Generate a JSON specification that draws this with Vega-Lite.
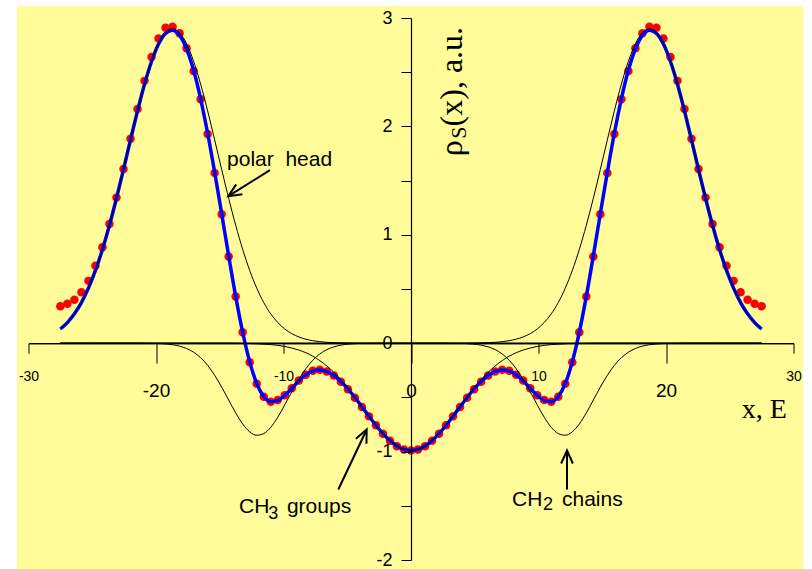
{
  "$schema": "https://vega.github.io/schema/vega-lite/v6.json",
  "width": 765,
  "height": 542,
  "autosize": {"type": "none"},
  "padding": {"left": 28.5, "top": 18, "right": 18.5, "bottom": 9},
  "background": "white",
  "config": {
    "view": {"stroke": null},
    "axis": {
      "domainColor": "black",
      "domainWidth": 1.2,
      "tickColor": "black",
      "tickWidth": 1,
      "labelColor": "black",
      "labelFont": "Liberation Sans",
      "grid": false
    }
  },
  "datasets": {
    "profile": [
      {"x": -27.5, "obs": 0.34, "fit": 0.131, "ph1": 0.131, "ph2": 0, "ch2a": 0, "ch2b": 0, "ch3": 0},
      {"x": -26.95, "obs": 0.365, "fit": 0.19, "ph1": 0.191, "ph2": 0, "ch2a": 0, "ch2b": 0, "ch3": 0},
      {"x": -26.4, "obs": 0.4, "fit": 0.271, "ph1": 0.271, "ph2": 0, "ch2a": 0, "ch2b": 0, "ch3": 0},
      {"x": -25.85, "obs": 0.47, "fit": 0.375, "ph1": 0.375, "ph2": 0, "ch2a": 0, "ch2b": 0, "ch3": 0},
      {"x": -25.3, "obs": 0.575, "fit": 0.508, "ph1": 0.508, "ph2": 0, "ch2a": 0, "ch2b": 0, "ch3": 0},
      {"x": -24.75, "obs": 0.715, "fit": 0.671, "ph1": 0.671, "ph2": 0, "ch2a": 0, "ch2b": 0, "ch3": 0},
      {"x": -24.2, "obs": 0.885, "fit": 0.865, "ph1": 0.865, "ph2": 0, "ch2a": 0, "ch2b": 0, "ch3": 0},
      {"x": -23.65, "obs": 1.1, "fit": 1.088, "ph1": 1.088, "ph2": 0, "ch2a": 0, "ch2b": 0, "ch3": 0},
      {"x": -23.1, "obs": 1.343, "fit": 1.337, "ph1": 1.337, "ph2": 0, "ch2a": 0, "ch2b": 0, "ch3": 0},
      {"x": -22.55, "obs": 1.608, "fit": 1.603, "ph1": 1.603, "ph2": 0, "ch2a": 0, "ch2b": 0, "ch3": 0},
      {"x": -22, "obs": 1.885, "fit": 1.876, "ph1": 1.876, "ph2": 0, "ch2a": 0, "ch2b": 0, "ch3": 0},
      {"x": -21.45, "obs": 2.16, "fit": 2.143, "ph1": 2.143, "ph2": 0, "ch2a": 0, "ch2b": 0, "ch3": 0},
      {"x": -20.9, "obs": 2.42, "fit": 2.389, "ph1": 2.39, "ph2": 0, "ch2a": -0.001, "ch2b": 0, "ch3": 0},
      {"x": -20.35, "obs": 2.64, "fit": 2.599, "ph1": 2.601, "ph2": 0, "ch2a": -0.002, "ch2b": 0, "ch3": 0},
      {"x": -19.8, "obs": 2.81, "fit": 2.76, "ph1": 2.763, "ph2": 0, "ch2a": -0.003, "ch2b": 0, "ch3": 0},
      {"x": -19.25, "obs": 2.91, "fit": 2.858, "ph1": 2.865, "ph2": 0, "ch2a": -0.007, "ch2b": 0, "ch3": 0},
      {"x": -18.7, "obs": 2.92, "fit": 2.886, "ph1": 2.9, "ph2": 0, "ch2a": -0.014, "ch2b": 0, "ch3": 0},
      {"x": -18.15, "obs": 2.86, "fit": 2.838, "ph1": 2.865, "ph2": 0, "ch2a": -0.027, "ch2b": 0, "ch3": 0},
      {"x": -17.6, "obs": 2.72, "fit": 2.714, "ph1": 2.763, "ph2": 0, "ch2a": -0.049, "ch2b": 0, "ch3": 0},
      {"x": -17.05, "obs": 2.51, "fit": 2.518, "ph1": 2.601, "ph2": 0, "ch2a": -0.083, "ch2b": 0, "ch3": 0},
      {"x": -16.5, "obs": 2.25, "fit": 2.255, "ph1": 2.39, "ph2": 0, "ch2a": -0.134, "ch2b": 0, "ch3": 0},
      {"x": -15.95, "obs": 1.93, "fit": 1.937, "ph1": 2.143, "ph2": 0, "ch2a": -0.204, "ch2b": 0, "ch3": 0},
      {"x": -15.4, "obs": 1.57, "fit": 1.578, "ph1": 1.876, "ph2": 0, "ch2a": -0.296, "ch2b": 0, "ch3": 0},
      {"x": -14.85, "obs": 1.19, "fit": 1.195, "ph1": 1.603, "ph2": 0, "ch2a": -0.405, "ch2b": 0, "ch3": 0},
      {"x": -14.3, "obs": 0.8, "fit": 0.806, "ph1": 1.337, "ph2": 0, "ch2a": -0.524, "ch2b": 0, "ch3": 0},
      {"x": -13.75, "obs": 0.43, "fit": 0.432, "ph1": 1.088, "ph2": 0, "ch2a": -0.643, "ch2b": 0, "ch3": -0.001},
      {"x": -13.2, "obs": 0.1, "fit": 0.1, "ph1": 0.865, "ph2": 0, "ch2a": -0.745, "ch2b": 0, "ch3": -0.002},
      {"x": -12.65, "obs": -0.175, "fit": -0.172, "ph1": 0.671, "ph2": 0, "ch2a": -0.818, "ch2b": 0, "ch3": -0.003},
      {"x": -12.1, "obs": -0.375, "fit": -0.372, "ph1": 0.508, "ph2": 0, "ch2a": -0.849, "ch2b": 0, "ch3": -0.005},
      {"x": -11.55, "obs": -0.495, "fit": -0.492, "ph1": 0.375, "ph2": 0, "ch2a": -0.834, "ch2b": 0, "ch3": -0.009},
      {"x": -11, "obs": -0.54, "fit": -0.54, "ph1": 0.271, "ph2": 0, "ch2a": -0.776, "ch2b": 0, "ch3": -0.013},
      {"x": -10.45, "obs": -0.525, "fit": -0.528, "ph1": 0.191, "ph2": 0, "ch2a": -0.683, "ch2b": 0, "ch3": -0.02},
      {"x": -9.9, "obs": -0.48, "fit": -0.482, "ph1": 0.131, "ph2": 0, "ch2a": -0.568, "ch2b": 0, "ch3": -0.03},
      {"x": -9.35, "obs": -0.415, "fit": -0.416, "ph1": 0.088, "ph2": 0, "ch2a": -0.448, "ch2b": 0, "ch3": -0.044},
      {"x": -8.8, "obs": -0.345, "fit": -0.348, "ph1": 0.058, "ph2": 0, "ch2a": -0.334, "ch2b": 0, "ch3": -0.063},
      {"x": -8.25, "obs": -0.29, "fit": -0.292, "ph1": 0.037, "ph2": 0, "ch2a": -0.235, "ch2b": 0, "ch3": -0.088},
      {"x": -7.7, "obs": -0.255, "fit": -0.258, "ph1": 0.023, "ph2": 0, "ch2a": -0.157, "ch2b": 0, "ch3": -0.12},
      {"x": -7.15, "obs": -0.245, "fit": -0.248, "ph1": 0.014, "ph2": 0, "ch2a": -0.099, "ch2b": 0, "ch3": -0.161},
      {"x": -6.6, "obs": -0.26, "fit": -0.262, "ph1": 0.008, "ph2": 0, "ch2a": -0.059, "ch2b": 0, "ch3": -0.21},
      {"x": -6.05, "obs": -0.298, "fit": -0.298, "ph1": 0.005, "ph2": 0, "ch2a": -0.034, "ch2b": 0, "ch3": -0.269},
      {"x": -5.5, "obs": -0.355, "fit": -0.353, "ph1": 0.003, "ph2": 0, "ch2a": -0.018, "ch2b": 0, "ch3": -0.337},
      {"x": -4.95, "obs": -0.425, "fit": -0.422, "ph1": 0.002, "ph2": 0, "ch2a": -0.009, "ch2b": 0, "ch3": -0.414},
      {"x": -4.4, "obs": -0.503, "fit": -0.501, "ph1": 0.001, "ph2": 0, "ch2a": -0.004, "ch2b": 0, "ch3": -0.497},
      {"x": -3.85, "obs": -0.588, "fit": -0.586, "ph1": 0, "ph2": 0, "ch2a": -0.002, "ch2b": 0, "ch3": -0.584},
      {"x": -3.3, "obs": -0.675, "fit": -0.673, "ph1": 0, "ph2": 0, "ch2a": -0.001, "ch2b": 0, "ch3": -0.672},
      {"x": -2.75, "obs": -0.758, "fit": -0.757, "ph1": 0, "ph2": 0, "ch2a": 0, "ch2b": 0, "ch3": -0.756},
      {"x": -2.2, "obs": -0.836, "fit": -0.834, "ph1": 0, "ph2": 0, "ch2a": 0, "ch2b": 0, "ch3": -0.833},
      {"x": -1.65, "obs": -0.9, "fit": -0.899, "ph1": 0, "ph2": 0, "ch2a": 0, "ch2b": 0, "ch3": -0.899},
      {"x": -1.1, "obs": -0.95, "fit": -0.948, "ph1": 0, "ph2": 0, "ch2a": 0, "ch2b": 0, "ch3": -0.948},
      {"x": -0.55, "obs": -0.98, "fit": -0.979, "ph1": 0, "ph2": 0, "ch2a": 0, "ch2b": 0, "ch3": -0.979},
      {"x": 0, "obs": -0.99, "fit": -0.99, "ph1": 0, "ph2": 0, "ch2a": 0, "ch2b": 0, "ch3": -0.99},
      {"x": 0.55, "obs": -0.98, "fit": -0.979, "ph1": 0, "ph2": 0, "ch2a": 0, "ch2b": 0, "ch3": -0.979},
      {"x": 1.1, "obs": -0.95, "fit": -0.948, "ph1": 0, "ph2": 0, "ch2a": 0, "ch2b": 0, "ch3": -0.948},
      {"x": 1.65, "obs": -0.9, "fit": -0.899, "ph1": 0, "ph2": 0, "ch2a": 0, "ch2b": 0, "ch3": -0.899},
      {"x": 2.2, "obs": -0.836, "fit": -0.834, "ph1": 0, "ph2": 0, "ch2a": 0, "ch2b": 0, "ch3": -0.833},
      {"x": 2.75, "obs": -0.758, "fit": -0.757, "ph1": 0, "ph2": 0, "ch2a": 0, "ch2b": 0, "ch3": -0.756},
      {"x": 3.3, "obs": -0.675, "fit": -0.673, "ph1": 0, "ph2": 0, "ch2a": 0, "ch2b": -0.001, "ch3": -0.672},
      {"x": 3.85, "obs": -0.588, "fit": -0.586, "ph1": 0, "ph2": 0, "ch2a": 0, "ch2b": -0.002, "ch3": -0.584},
      {"x": 4.4, "obs": -0.503, "fit": -0.501, "ph1": 0, "ph2": 0.001, "ch2a": 0, "ch2b": -0.004, "ch3": -0.497},
      {"x": 4.95, "obs": -0.425, "fit": -0.422, "ph1": 0, "ph2": 0.002, "ch2a": 0, "ch2b": -0.009, "ch3": -0.414},
      {"x": 5.5, "obs": -0.355, "fit": -0.353, "ph1": 0, "ph2": 0.003, "ch2a": 0, "ch2b": -0.018, "ch3": -0.337},
      {"x": 6.05, "obs": -0.298, "fit": -0.298, "ph1": 0, "ph2": 0.005, "ch2a": 0, "ch2b": -0.034, "ch3": -0.269},
      {"x": 6.6, "obs": -0.26, "fit": -0.262, "ph1": 0, "ph2": 0.008, "ch2a": 0, "ch2b": -0.059, "ch3": -0.21},
      {"x": 7.15, "obs": -0.245, "fit": -0.248, "ph1": 0, "ph2": 0.014, "ch2a": 0, "ch2b": -0.099, "ch3": -0.161},
      {"x": 7.7, "obs": -0.255, "fit": -0.258, "ph1": 0, "ph2": 0.023, "ch2a": 0, "ch2b": -0.157, "ch3": -0.12},
      {"x": 8.25, "obs": -0.29, "fit": -0.292, "ph1": 0, "ph2": 0.037, "ch2a": 0, "ch2b": -0.235, "ch3": -0.088},
      {"x": 8.8, "obs": -0.345, "fit": -0.348, "ph1": 0, "ph2": 0.058, "ch2a": 0, "ch2b": -0.334, "ch3": -0.063},
      {"x": 9.35, "obs": -0.415, "fit": -0.416, "ph1": 0, "ph2": 0.088, "ch2a": 0, "ch2b": -0.448, "ch3": -0.044},
      {"x": 9.9, "obs": -0.48, "fit": -0.482, "ph1": 0, "ph2": 0.131, "ch2a": 0, "ch2b": -0.568, "ch3": -0.03},
      {"x": 10.45, "obs": -0.525, "fit": -0.528, "ph1": 0, "ph2": 0.191, "ch2a": 0, "ch2b": -0.683, "ch3": -0.02},
      {"x": 11, "obs": -0.54, "fit": -0.54, "ph1": 0, "ph2": 0.271, "ch2a": 0, "ch2b": -0.776, "ch3": -0.013},
      {"x": 11.55, "obs": -0.495, "fit": -0.492, "ph1": 0, "ph2": 0.375, "ch2a": 0, "ch2b": -0.834, "ch3": -0.009},
      {"x": 12.1, "obs": -0.375, "fit": -0.372, "ph1": 0, "ph2": 0.508, "ch2a": 0, "ch2b": -0.849, "ch3": -0.005},
      {"x": 12.65, "obs": -0.175, "fit": -0.172, "ph1": 0, "ph2": 0.671, "ch2a": 0, "ch2b": -0.818, "ch3": -0.003},
      {"x": 13.2, "obs": 0.1, "fit": 0.1, "ph1": 0, "ph2": 0.865, "ch2a": 0, "ch2b": -0.745, "ch3": -0.002},
      {"x": 13.75, "obs": 0.43, "fit": 0.432, "ph1": 0, "ph2": 1.088, "ch2a": 0, "ch2b": -0.643, "ch3": -0.001},
      {"x": 14.3, "obs": 0.8, "fit": 0.806, "ph1": 0, "ph2": 1.337, "ch2a": 0, "ch2b": -0.524, "ch3": 0},
      {"x": 14.85, "obs": 1.19, "fit": 1.195, "ph1": 0, "ph2": 1.603, "ch2a": 0, "ch2b": -0.405, "ch3": 0},
      {"x": 15.4, "obs": 1.57, "fit": 1.578, "ph1": 0, "ph2": 1.876, "ch2a": 0, "ch2b": -0.296, "ch3": 0},
      {"x": 15.95, "obs": 1.93, "fit": 1.937, "ph1": 0, "ph2": 2.143, "ch2a": 0, "ch2b": -0.204, "ch3": 0},
      {"x": 16.5, "obs": 2.25, "fit": 2.255, "ph1": 0, "ph2": 2.39, "ch2a": 0, "ch2b": -0.134, "ch3": 0},
      {"x": 17.05, "obs": 2.51, "fit": 2.518, "ph1": 0, "ph2": 2.601, "ch2a": 0, "ch2b": -0.083, "ch3": 0},
      {"x": 17.6, "obs": 2.72, "fit": 2.714, "ph1": 0, "ph2": 2.763, "ch2a": 0, "ch2b": -0.049, "ch3": 0},
      {"x": 18.15, "obs": 2.86, "fit": 2.838, "ph1": 0, "ph2": 2.865, "ch2a": 0, "ch2b": -0.027, "ch3": 0},
      {"x": 18.7, "obs": 2.92, "fit": 2.886, "ph1": 0, "ph2": 2.9, "ch2a": 0, "ch2b": -0.014, "ch3": 0},
      {"x": 19.25, "obs": 2.91, "fit": 2.858, "ph1": 0, "ph2": 2.865, "ch2a": 0, "ch2b": -0.007, "ch3": 0},
      {"x": 19.8, "obs": 2.81, "fit": 2.76, "ph1": 0, "ph2": 2.763, "ch2a": 0, "ch2b": -0.003, "ch3": 0},
      {"x": 20.35, "obs": 2.64, "fit": 2.599, "ph1": 0, "ph2": 2.601, "ch2a": 0, "ch2b": -0.002, "ch3": 0},
      {"x": 20.9, "obs": 2.42, "fit": 2.389, "ph1": 0, "ph2": 2.39, "ch2a": 0, "ch2b": -0.001, "ch3": 0},
      {"x": 21.45, "obs": 2.16, "fit": 2.143, "ph1": 0, "ph2": 2.143, "ch2a": 0, "ch2b": 0, "ch3": 0},
      {"x": 22, "obs": 1.885, "fit": 1.876, "ph1": 0, "ph2": 1.876, "ch2a": 0, "ch2b": 0, "ch3": 0},
      {"x": 22.55, "obs": 1.608, "fit": 1.603, "ph1": 0, "ph2": 1.603, "ch2a": 0, "ch2b": 0, "ch3": 0},
      {"x": 23.1, "obs": 1.343, "fit": 1.337, "ph1": 0, "ph2": 1.337, "ch2a": 0, "ch2b": 0, "ch3": 0},
      {"x": 23.65, "obs": 1.1, "fit": 1.088, "ph1": 0, "ph2": 1.088, "ch2a": 0, "ch2b": 0, "ch3": 0},
      {"x": 24.2, "obs": 0.885, "fit": 0.865, "ph1": 0, "ph2": 0.865, "ch2a": 0, "ch2b": 0, "ch3": 0},
      {"x": 24.75, "obs": 0.715, "fit": 0.671, "ph1": 0, "ph2": 0.671, "ch2a": 0, "ch2b": 0, "ch3": 0},
      {"x": 25.3, "obs": 0.575, "fit": 0.508, "ph1": 0, "ph2": 0.508, "ch2a": 0, "ch2b": 0, "ch3": 0},
      {"x": 25.85, "obs": 0.47, "fit": 0.375, "ph1": 0, "ph2": 0.375, "ch2a": 0, "ch2b": 0, "ch3": 0},
      {"x": 26.4, "obs": 0.4, "fit": 0.271, "ph1": 0, "ph2": 0.271, "ch2a": 0, "ch2b": 0, "ch3": 0},
      {"x": 26.95, "obs": 0.365, "fit": 0.19, "ph1": 0, "ph2": 0.191, "ch2a": 0, "ch2b": 0, "ch3": 0},
      {"x": 27.5, "obs": 0.34, "fit": 0.131, "ph1": 0, "ph2": 0.131, "ch2a": 0, "ch2b": 0, "ch3": 0}
    ]
  },
  "layer": [
    {
      "data": {"values": [{}]},
      "mark": {"type": "rect", "color": "#FFFC99", "clip": false},
      "encoding": {
        "x": {"datum": -30.9, "type": "quantitative", "scale": {"domain": [-30, 30], "nice": false}, "axis": null},
        "x2": {"datum": 30.75},
        "y": {"datum": 3.11, "type": "quantitative", "scale": {"domain": [-2, 3], "nice": false}, "axis": null},
        "y2": {"datum": -2.1}
      }
    },
    {
      "data": {"name": "profile"},
      "mark": {"type": "circle", "color": "#FF0000", "size": 72, "opacity": 1},
      "encoding": {
        "x": {
          "field": "x", "type": "quantitative",
          "axis": {
            "orient": "bottom", "offset": -216.8, "title": null, "zindex": 1,
            "values": [-30, -10, 10, 30], "tickSize": 10,
            "labelFontSize": 14, "labelPadding": 16.5,
            "labelFlush": false, "labelOverlap": false,
            "labelExpr": "'' + datum.value"
          }
        },
        "y": {"field": "obs", "type": "quantitative", "axis": null}
      }
    },
    {
      "data": {"name": "profile"},
      "mark": {"type": "line", "color": "#0000FF", "strokeWidth": 3.5, "interpolate": "monotone"},
      "encoding": {
        "x": {
          "field": "x", "type": "quantitative",
          "scale": {"domain": [-30, 30], "nice": false},
          "axis": {
            "orient": "bottom", "offset": -216.8, "title": null, "zindex": 1,
            "values": [-20, 0, 20], "tickSize": 20,
            "labelFontSize": 19, "labelPadding": 18.2,
            "labelFlush": false, "labelOverlap": false,
            "labelExpr": "'' + datum.value"
          }
        },
        "y": {
          "field": "fit", "type": "quantitative",
          "scale": {"domain": [-2, 3], "nice": false},
          "axis": {
            "orient": "left", "offset": -382.5, "title": null, "zindex": 1,
            "values": [-2, -1.5, -1, -0.5, 0, 0.5, 1, 1.5, 2, 2.5, 3],
            "tickSize": 10, "labelFontSize": 18, "labelPadding": 9,
            "labelFlush": false, "labelOverlap": false,
            "labelExpr": "datum.value % 1 == 0 ? '' + datum.value : ''"
          }
        }
      }
    },
    {
      "data": {"name": "profile"},
      "transform": [{"fold": ["ph1", "ph2", "ch2a", "ch2b", "ch3"], "as": ["part", "val"]}],
      "mark": {"type": "line", "color": "black", "strokeWidth": 1, "interpolate": "monotone"},
      "encoding": {
        "x": {"field": "x", "type": "quantitative", "axis": null},
        "y": {"field": "val", "type": "quantitative", "axis": null},
        "detail": {"field": "part"}
      }
    },
    {
      "data": {"values": [
        {"x0": -11.06, "y0": 1.596, "x1": -14.2, "y1": 1.366},
        {"x0": -5.7, "y0": -1.35, "x1": -3.53, "y1": -0.81},
        {"x0": 12.235, "y0": -1.35, "x1": 12.235, "y1": -1.0}
      ]},
      "mark": {"type": "rule", "color": "black", "strokeWidth": 2},
      "encoding": {
        "x": {"field": "x0", "type": "quantitative", "axis": null},
        "y": {"field": "y0", "type": "quantitative", "axis": null},
        "x2": {"field": "x1"},
        "y2": {"field": "y1"}
      }
    },
    {
      "data": {"values": [{"x": -14.33, "y": 1.356}]},
      "mark": {"type": "point", "shape": "M-1,-0.45L0,0L-1,0.45", "filled": false, "stroke": "black", "strokeWidth": 2, "size": 676, "angle": 148, "opacity": 1},
      "encoding": {
        "x": {"field": "x", "type": "quantitative", "axis": null},
        "y": {"field": "y", "type": "quantitative", "axis": null}
      }
    },
    {
      "data": {"values": [{"x": -3.475, "y": -0.796}]},
      "mark": {"type": "point", "shape": "M-1,-0.45L0,0L-1,0.45", "filled": false, "stroke": "black", "strokeWidth": 2, "size": 676, "angle": -64.7, "opacity": 1},
      "encoding": {
        "x": {"field": "x", "type": "quantitative", "axis": null},
        "y": {"field": "y", "type": "quantitative", "axis": null}
      }
    },
    {
      "data": {"values": [{"x": 12.235, "y": -0.99}]},
      "mark": {"type": "point", "shape": "M-1,-0.45L0,0L-1,0.45", "filled": false, "stroke": "black", "strokeWidth": 2, "size": 676, "angle": -90, "opacity": 1},
      "encoding": {
        "x": {"field": "x", "type": "quantitative", "axis": null},
        "y": {"field": "y", "type": "quantitative", "axis": null}
      }
    },
    {
      "data": {"values": [
        {"x": -14.43, "y": 1.633, "t": "polar\u00a0 head"},
        {"x": -13.49, "y": -1.571, "t": "CH"},
        {"x": -9.73, "y": -1.571, "t": "groups"},
        {"x": 7.92, "y": -1.506, "t": "CH"},
        {"x": 11.84, "y": -1.506, "t": "chains"}
      ]},
      "mark": {"type": "text", "font": "Liberation Sans", "fontSize": 21, "align": "left", "baseline": "alphabetic", "color": "black"},
      "encoding": {
        "x": {"field": "x", "type": "quantitative", "axis": null},
        "y": {"field": "y", "type": "quantitative", "axis": null},
        "text": {"field": "t"}
      }
    },
    {
      "data": {"values": [
        {"x": -11.19, "y": -1.62, "t": "3"},
        {"x": 10.35, "y": -1.543, "t": "2"}
      ]},
      "mark": {"type": "text", "font": "Liberation Sans", "fontSize": 18, "align": "left", "baseline": "alphabetic", "color": "black"},
      "encoding": {
        "x": {"field": "x", "type": "quantitative", "axis": null},
        "y": {"field": "y", "type": "quantitative", "axis": null},
        "text": {"field": "t"}
      }
    },
    {
      "data": {"values": [{"x": 25.94, "y": -0.69, "t": "x, E"}]},
      "mark": {"type": "text", "font": "Liberation Serif", "fontSize": 28, "align": "left", "baseline": "alphabetic", "color": "black"},
      "encoding": {
        "x": {"field": "x", "type": "quantitative", "axis": null},
        "y": {"field": "y", "type": "quantitative", "axis": null},
        "text": {"field": "t"}
      }
    },
    {
      "data": {"values": [
        {"x": 3.98, "y": 1.725, "t": "ρ"},
        {"x": 3.98, "y": 2.0, "t": "(x), a.u."}
      ]},
      "mark": {"type": "text", "font": "Liberation Serif", "fontSize": 32, "angle": 270, "align": "left", "baseline": "alphabetic", "color": "black"},
      "encoding": {
        "x": {"field": "x", "type": "quantitative", "axis": null},
        "y": {"field": "y", "type": "quantitative", "axis": null},
        "text": {"field": "t"}
      }
    },
    {
      "data": {"values": [{"x": 4.29, "y": 1.887, "t": "S"}]},
      "mark": {"type": "text", "font": "Liberation Serif", "fontSize": 22, "angle": 270, "align": "left", "baseline": "alphabetic", "color": "black"},
      "encoding": {
        "x": {"field": "x", "type": "quantitative", "axis": null},
        "y": {"field": "y", "type": "quantitative", "axis": null},
        "text": {"field": "t"}
      }
    }
  ],
  "resolve": {"axis": {"x": "independent", "y": "independent"}}
}
